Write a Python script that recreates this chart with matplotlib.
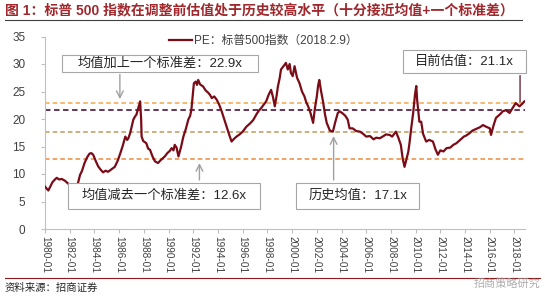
import matplotlib
matplotlib.use("Agg")
import matplotlib.pyplot as plt
from matplotlib.patches import Rectangle
from matplotlib.lines import Line2D

plt.rcParams["font.family"] = ["Liberation Sans", "Noto Sans CJK SC"]

# ------------------------------------------------------------------ #
# data (PE of S&P 500, fractional years)      #
# ------------------------------------------------------------------ #
years = [
    1980.0, 1980.15, 1980.27, 1980.45, 1980.6, 1980.8, 1980.95, 1981.15, 1981.35, 1981.6,
    1981.9, 1982.2, 1982.5, 1982.7, 1982.83, 1983.0, 1983.2, 1983.4, 1983.6, 1983.75,
    1983.9, 1984.1, 1984.3, 1984.5, 1984.7, 1984.9, 1985.1, 1985.4, 1985.65, 1985.9,
    1986.1, 1986.3, 1986.5, 1986.65, 1986.75, 1986.9, 1987.15, 1987.3, 1987.4, 1987.55,
    1987.7, 1987.78, 1987.82, 1987.95, 1988.2, 1988.35, 1988.5, 1988.7, 1988.9, 1989.15,
    1989.4, 1989.7, 1989.9, 1990.1, 1990.25, 1990.4, 1990.5, 1990.65, 1990.8, 1991.0,
    1991.2, 1991.4, 1991.6, 1991.75, 1991.85, 1991.95, 1992.05, 1992.2, 1992.3, 1992.4,
    1992.55, 1992.8, 1993.0, 1993.2, 1993.35, 1993.5, 1993.7, 1993.9, 1994.1, 1994.3,
    1994.5, 1994.7, 1994.9, 1995.1, 1995.3, 1995.5, 1995.75, 1996.0, 1996.3, 1996.6,
    1996.85, 1997.1, 1997.3, 1997.5, 1997.7, 1997.9, 1998.1, 1998.3, 1998.45, 1998.6,
    1998.75, 1998.85, 1999.0, 1999.1, 1999.3, 1999.5, 1999.65, 1999.8, 1999.9, 2000.05,
    2000.2, 2000.4, 2000.6, 2000.8, 2001.0, 2001.15, 2001.3, 2001.5, 2001.7, 2001.85,
    2002.0, 2002.1, 2002.2, 2002.35, 2002.5, 2002.65, 2002.8, 2002.95, 2003.05, 2003.3,
    2003.5, 2003.7, 2003.85, 2004.1, 2004.3, 2004.5, 2004.65, 2004.9, 2005.2, 2005.5,
    2005.75, 2006.0, 2006.3, 2006.6, 2006.8, 2007.1, 2007.4, 2007.6, 2007.9, 2008.1,
    2008.4, 2008.6, 2008.8, 2008.95, 2009.1, 2009.18, 2009.25, 2009.4, 2009.5, 2009.65,
    2009.8, 2009.95, 2010.05, 2010.12, 2010.2, 2010.3, 2010.45, 2010.6, 2010.85, 2011.1,
    2011.4, 2011.6, 2011.8, 2012.0, 2012.25, 2012.5, 2012.8, 2013.05, 2013.3, 2013.6,
    2013.9, 2014.1, 2014.35, 2014.6, 2014.9, 2015.2, 2015.45, 2015.7, 2016.0, 2016.1,
    2016.3, 2016.5, 2016.7, 2016.85, 2017.05, 2017.3, 2017.6, 2017.85, 2018.1, 2018.25,
    2018.4, 2018.6, 2018.8,
]
pe = [
    7.7, 7.3, 7.0, 7.8, 8.5, 9.0, 9.3, 9.0, 9.1, 8.8,
    8.2, 7.6, 7.3, 8.6, 9.8, 10.6, 12.0, 13.0, 13.7, 13.8,
    13.5, 12.4, 11.4, 10.8, 10.3, 10.6, 10.4, 10.9, 11.3, 12.5,
    13.8, 15.2, 16.8, 16.2, 16.5, 17.5, 19.9, 20.5, 20.8, 22.0,
    23.2, 20.0, 16.8, 16.0, 15.6, 14.6, 14.4, 13.2, 12.3, 12.0,
    12.6, 13.2, 13.8, 14.2, 14.7, 14.3, 15.3, 14.8, 13.2, 14.8,
    16.8, 18.2, 19.9, 20.6, 21.7, 24.0, 26.5, 26.8, 26.2, 27.1,
    26.3, 25.9, 25.2, 24.8, 24.4, 23.8, 24.1, 23.5, 22.6, 21.4,
    20.0, 18.6, 17.2, 15.9, 16.4, 16.8, 17.2, 17.7, 18.6, 19.2,
    19.8, 20.8, 21.5, 22.0, 22.6, 23.2, 24.4, 25.3, 24.0, 22.3,
    24.3, 25.9, 27.5, 29.0, 29.6, 30.2, 29.0, 30.0, 28.4, 27.8,
    29.6, 27.5, 26.5, 25.0, 24.1, 23.0, 22.3, 21.0, 19.3, 22.0,
    24.1, 26.0, 27.1, 25.0, 23.2, 21.0, 19.3, 18.5, 17.9, 17.7,
    19.5, 21.1, 21.4, 21.0, 20.6, 19.9, 18.3, 18.3, 17.8, 17.7,
    17.3, 16.8, 16.9, 16.3, 16.6, 16.5, 16.9, 17.2, 17.1, 16.8,
    17.7, 16.6, 15.3, 12.8, 11.3, 12.0, 12.6, 14.0, 15.6, 18.5,
    21.1, 24.5, 26.0, 23.5, 21.7, 19.5, 19.5, 17.3, 15.9, 16.2,
    15.9, 14.5, 13.5, 14.3, 14.1, 14.7, 14.8, 15.3, 15.6, 16.2,
    16.8, 17.0, 17.4, 17.9, 18.2, 18.5, 18.9, 18.6, 18.3, 17.1,
    18.8, 20.2, 20.6, 20.9, 21.4, 21.6, 21.1, 22.0, 22.9, 22.6,
    22.3, 22.7, 23.2,
]

plus_sd = 22.9       # 均值 + 1 标准差
current = 21.7       # dark reference line
mean_pe = 17.7       # 历史均值 line
minus_sd = 12.7      # 均值 - 1 标准差

tick_years = list(range(1980, 2019, 2))
tick_labels = [f"{y}-01" for y in tick_years]

TITLE = "图 1：标普 500 指数在调整前估值处于历史较高水平（十分接近均值+一个标准差）"
LEGEND = "PE：标普500指数（2018.2.9）"
SOURCE = "资料来源：招商证券"

W, H = 545, 299
fig = plt.figure(figsize=(W / 100, H / 100), dpi=100)
ax = fig.add_axes([45 / W, 1 - 229 / H, (525 - 45) / W, (229 - 36.5) / H])

# ---- reference lines ---------------------------------------------
dash = (0, (3, 2))
ax.axhline(plus_sd, color="#F2A54A", lw=1.1, ls=dash, zorder=1)
ax.axhline(current, color="#5E2446", lw=1.3, ls=dash, zorder=1)
ax.axhline(mean_pe, color="#BE9A5E", lw=1.1, ls=dash, zorder=1)
ax.axhline(minus_sd, color="#EE8A3A", lw=1.1, ls=dash, zorder=1)

# ---- PE series ---------------------------------------------------
ax.plot(years, pe, color="#7A0C18", lw=1.6, zorder=3, label=LEGEND)

ax.set_xlim(1980, 2018.85)
ax.set_ylim(0, 35)
ax.set_yticks(range(0, 36, 5))
ax.set_xticks(tick_years)
ax.set_xticklabels(tick_labels, rotation=270, fontsize=7.2, color="#404040")
ax.tick_params(axis="y", labelsize=8.5, labelcolor="#404040", length=3,
               color="#BFBFBF", pad=11)
ax.tick_params(axis="x", length=3, color="#BFBFBF", pad=2)
for s in ("top", "right"):
    ax.spines[s].set_visible(False)
for s in ("left", "bottom"):
    ax.spines[s].set_color("#BFBFBF")
    ax.spines[s].set_linewidth(0.8)

# ---- legend ------------------------------------------------------
ax.legend(loc="upper left", bbox_to_anchor=(164 / W, 1 - 30 / H),
          bbox_transform=fig.transFigure, frameon=False, fontsize=8.5,
          handlelength=2.0, handletextpad=0.15, borderaxespad=0,
          labelcolor="#404040")

# ---- annotation boxes (figure pixels) -----------------------------
def box(x0, y0, x1, y1, text):
    fig.add_artist(Rectangle((x0 / W, 1 - y1 / H), (x1 - x0) / W, (y1 - y0) / H,
                             transform=fig.transFigure, facecolor="white",
                             edgecolor="#A6A6A6", lw=0.8, zorder=5))
    fig.text((x0 + x1) / 2 / W, 1 - (y0 + y1) / 2 / H, text, ha="center",
             va="center", fontsize=9.5, color="#262626", zorder=6)

box(62, 55, 258, 72, "均值加上一个标准差：22.9x")
box(68, 183, 260, 209, "均值减去一个标准差：12.6x")
box(296, 183, 419, 209, "历史均值：17.1x")
box(403, 50, 526, 73, "目前估值：21.1x")

arrow = dict(arrowstyle="->", color="#A0A0A0", lw=1.0, mutation_scale=12)
ax.annotate("", xy=(1986.06, 23.1), xytext=(1986.06, 28.6), arrowprops=arrow)
ax.annotate("", xy=(1992.5, 12.5), xytext=(1992.5, 8.4), arrowprops=arrow)
ax.annotate("", xy=(2003.36, 17.4), xytext=(2003.36, 8.4), arrowprops=arrow)
ax.annotate("", xy=(2018.45, 22.6), xytext=(2018.45, 28.4),
            arrowprops=dict(arrowstyle="-", color="#6B2A3A", lw=1.0))

# ---- title / footer ----------------------------------------------
fig.text(5 / W, 1 - 10 / H, TITLE, fontsize=10, fontweight="bold",
         color="#A0282D", va="center", ha="left")
fig.add_artist(Line2D([5 / W, 522 / W], [1 - 20 / H, 1 - 20 / H],
                      color="#404040", lw=0.8))
fig.add_artist(Line2D([5 / W, 540 / W], [1 - 278 / H, 1 - 278 / H],
                      color="#8B1A1A", lw=0.8))
fig.text(5 / W, 1 - 288 / H, SOURCE, fontsize=7.5, color="#262626",
         va="center", ha="left")
fig.text(540 / W, 1 - 283 / H, "招商策略研究", fontsize=8, color="#9A9A9A",
         alpha=0.8, va="center", ha="right")

fig.savefig("out.png", dpi=100)
